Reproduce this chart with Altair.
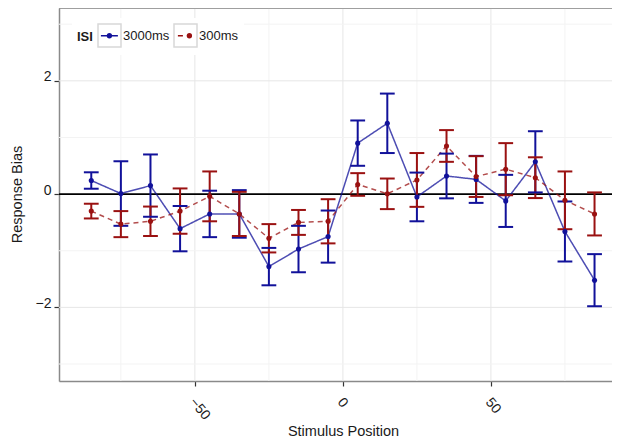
import altair as alt
import pandas as pd

# ---- data ----
positions = [-85, -75, -65, -55, -45, -35, -25, -15, -5, 5, 15, 25, 35, 45, 55, 65, 75, 85]
bias_3000 = [0.24, 0.01, 0.15, -0.61, -0.35, -0.35, -1.28, -0.97, -0.75, 0.90, 1.25, -0.05, 0.32, 0.26, -0.12, 0.57, -0.66, -1.52]
se_3000 = [0.145, 0.57, 0.55, 0.40, 0.41, 0.42, 0.33, 0.41, 0.46, 0.40, 0.525, 0.43, 0.395, 0.415, 0.46, 0.54, 0.53, 0.46]
bias_300 = [-0.30, -0.53, -0.48, -0.30, -0.04, -0.35, -0.78, -0.50, -0.48, 0.17, 0.005, 0.25, 0.85, 0.31, 0.44, 0.29, -0.11, -0.35]
se_300 = [0.13, 0.23, 0.26, 0.40, 0.44, 0.39, 0.25, 0.22, 0.39, 0.20, 0.27, 0.475, 0.28, 0.36, 0.46, 0.36, 0.51, 0.38]

isi_levels = ["3000ms", "300ms"]
isi_colors = ["#11119a", "#9a1111"]
x_ticks = [-50, 0, 50]
x_minor = [-75, -25, 25, 75]
y_ticks = [-2, 0, 2]
y_minor = [-3, -1, 1, 3]

rows = []
for isi, means, ses in [("3000ms", bias_3000, se_3000), ("300ms", bias_300, se_300)]:
    for p, m, s in zip(positions, means, ses):
        rows.append({"ISI": isi, "key": "k" + isi, "dkey": "d" + isi, "pos": p, "bias": m, "se": s})
df = pd.DataFrame(rows)

W, H = 553, 373
FONT = "Liberation Sans"

xscale = alt.Scale(domain=[-95.9, 90.9], nice=False, zero=False)
yscale = alt.Scale(domain=[-3.30, 3.286], nice=False, zero=False)

xaxis = alt.Axis(
    title="Stimulus Position", values=x_ticks, grid=False,
    labelAngle=50, labelAlign="left", labelBaseline="top", labelPadding=9, labelOffset=2,
    labelFontSize=14, labelColor="#1a1a1a", labelFlush=False, labelOverlap=False,
    tickSize=5, tickColor="#333333", tickWidth=1.2,
    domainColor="#8a8a8a", domainWidth=1.5,
    titleFontSize=14.5, titleFontWeight="normal", titleColor="#1a1a1a",
    titleX=284, titleY=54, titleAlign="center", titleBaseline="alphabetic",
)
yaxis = alt.Axis(
    title="Response Bias", values=y_ticks, grid=False,
    labelAlign="right", labelBaseline="alphabetic", labelPadding=3,
    labelFontSize=14, labelColor="#1a1a1a",
    tickSize=5, tickColor="#333333", tickWidth=1.2,
    domainColor="#8a8a8a", domainWidth=1.5,
    titleFontSize=14.5, titleFontWeight="normal", titleColor="#1a1a1a",
    titleAngle=270, titleX=-42, titleY=186, titleAlign="center", titleBaseline="middle",
)


def xenc(field):
    return alt.X(field, type="quantitative", scale=xscale, axis=xaxis)


def yenc(field):
    return alt.Y(field, type="quantitative", scale=yscale, axis=yaxis)


# Three stacked legends (boxes+text / lines / dots) that share one layout.
LEG_X, LEG_Y = 13, 10
TITLE_W = 15.9          # width of the bold "ISI" legend title
FIRST_LABEL_W = 46.24   # width of the "3000ms" label at 13px
legend_boxes = alt.Legend(
    title="ISI", orient="none", legendX=LEG_X, legendY=LEG_Y, direction="horizontal",
    titleOrient="left", titleFontSize=13, titleFontWeight="bold", titleColor="#1a1a1a",
    titleBaseline="middle", titleAnchor="middle", titlePadding=4,
    labelFontSize=13, labelColor="#1a1a1a", columnPadding=1, padding=5,
    labelExpr="substring(datum.label, 1)",
    symbolType="square", symbolSize=529,
    symbolStrokeColor="#c8c8c8", symbolStrokeWidth=1.5, symbolFillColor="white",
    fillColor="white", labelOffset=1, zindex=1,
)
hidden_common = dict(
    title="", orient="none", legendX=LEG_X + TITLE_W + 4, direction="horizontal",
    titlePadding=0, labelFontSize=13, columnPadding=1, padding=5, labelExpr="''",
)
legend_lines = alt.Legend(
    legendY=LEG_Y + 3, symbolType="stroke", symbolSize=289, symbolStrokeWidth=1.5,
    symbolOpacity=1, symbolOffset=3, labelOffset=7 + FIRST_LABEL_W, zindex=2, **hidden_common,
)
legend_dots = alt.Legend(
    legendY=LEG_Y + 6, symbolType="circle", symbolSize=28, symbolStrokeWidth=0,
    symbolOffset=6, labelOffset=13 + FIRST_LABEL_W, zindex=3, **hidden_common,
)

series_scale = alt.Scale(domain=isi_levels, range=isi_colors)
color_nolegend = alt.Color("ISI:N", scale=series_scale, legend=None)

base = alt.Chart(df)

grid_x_minor = alt.Chart(pd.DataFrame({"v": x_minor})).mark_rule(color="#f3f3f3", strokeWidth=1).encode(x=xenc("v"))
grid_x_major = alt.Chart(pd.DataFrame({"v": x_ticks})).mark_rule(color="#e6e6e6", strokeWidth=1).encode(x=xenc("v"))
grid_y_minor = alt.Chart(pd.DataFrame({"v": y_minor})).mark_rule(color="#f3f3f3", strokeWidth=1).encode(y=yenc("v"))
grid_y_major = alt.Chart(pd.DataFrame({"v": y_ticks})).mark_rule(color="#e6e6e6", strokeWidth=1).encode(y=yenc("v"))
zero_line = alt.Chart(pd.DataFrame({"v": [0]})).mark_rule(color="black", strokeWidth=1.6).encode(y=yenc("v"))

lines = base.mark_line(strokeWidth=1.5, opacity=0.75).encode(
    x=xenc("pos"), y=yenc("bias"),
    color=alt.Color("ISI:N", scale=series_scale, legend=legend_lines),
    strokeDash=alt.StrokeDash("ISI:N", scale=alt.Scale(domain=isi_levels, range=[[1, 0], [5, 4]]), legend=None),
)

eb = base.transform_calculate(
    lo="datum.bias - datum.se", hi="datum.bias + datum.se",
    xl="datum.pos - 2.5", xr="datum.pos + 2.5",
)
bars = eb.mark_rule(strokeWidth=2).encode(x=xenc("pos"), y=yenc("lo"), y2="hi:Q", color=color_nolegend)
caps_lo = eb.mark_rule(strokeWidth=2).encode(x=xenc("xl"), x2="xr:Q", y=yenc("lo"), color=color_nolegend)
caps_hi = eb.mark_rule(strokeWidth=2).encode(x=xenc("xl"), x2="xr:Q", y=yenc("hi"), color=color_nolegend)

points = base.mark_point(filled=True, size=26, opacity=1).encode(
    x=xenc("pos"), y=yenc("bias"),
    fill=alt.Fill("dkey:N", scale=alt.Scale(domain=["d" + v for v in isi_levels], range=isi_colors),
                  legend=legend_dots),
)

# invisible layer that only provides the grey key boxes (and the visible legend text)
boxes = base.transform_filter("false").mark_point(filled=False, color="#c8c8c8").encode(
    x=xenc("pos"), y=yenc("bias"),
    shape=alt.Shape("key:N", scale=alt.Scale(domain=["k" + v for v in isi_levels], range=["square", "square"]),
                    legend=legend_boxes),
)

top_border = alt.Chart(pd.DataFrame({"a": [0]})).mark_rule(color="#8a8a8a", strokeWidth=1.5).encode(
    x=alt.value(0), x2=alt.value(W), y=alt.value(0)
)

chart = alt.layer(
    grid_x_minor, grid_x_major, grid_y_minor, grid_y_major, zero_line,
    lines, bars, caps_lo, caps_hi, points, boxes, top_border,
).properties(
    width=W, height=H,
    autosize=alt.AutoSizeParams(type="none"),
    padding={"left": 51, "top": 0, "right": 0, "bottom": 59},
).configure_view(strokeWidth=0).configure(font=FONT)

chart.save("out.html", embed_options={"renderer": "svg", "actions": False})
